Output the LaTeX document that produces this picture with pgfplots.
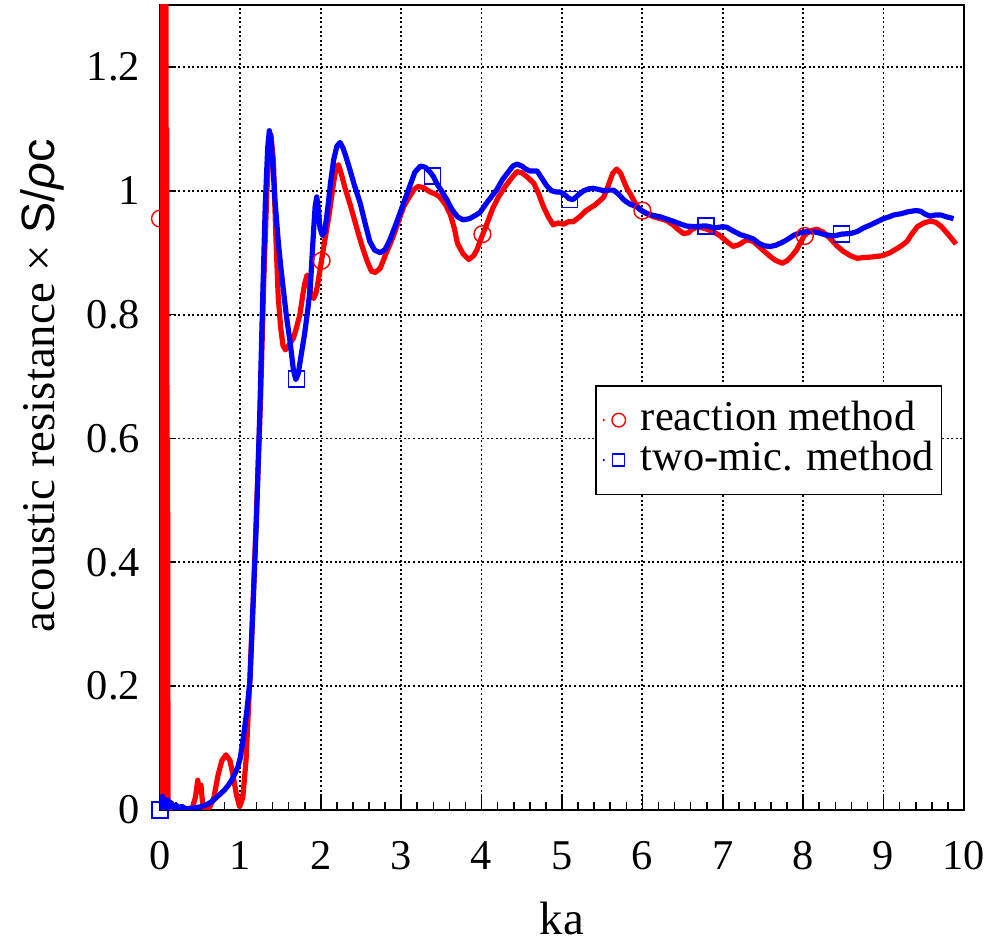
\documentclass[border=0pt]{standalone}
\usepackage{pgfplots}
\pgfplotsset{compat=1.18}
\usepackage{fontspec}
\setmainfont{Liberation Serif}
\setsansfont{Liberation Sans}

\begin{document}
\begin{tikzpicture}
\useasboundingbox (-40pt,-33pt) rectangle (207.25pt,202.5pt);
\begin{axis}[
    scale only axis,
    width=201pt, height=201.25pt,
    xmin=0, xmax=10,
    ymin=0, ymax=1.3,
    xtick={0,1,...,10},
    ytick={0,0.2,0.4,0.6,0.8,1,1.2},
    minor x tick num=4,
    minor y tick num=4,
    xtick pos=left, ytick pos=left,
    tick align=inside,
    major tick length=3.8pt,
    minor tick length=2pt,
    tick style={black, line width=0.4pt},
    axis line style={black, line width=0.6pt},
    grid=major,
    grid style={black, line width=0.45pt, dash pattern=on 0.5pt off 0.65pt},
    /pgf/number format/assume math mode=true,
    ticklabel style={font=\fontsize{10.6}{12}\selectfont},
    xticklabel style={anchor=base, yshift=-14.8pt},
    yticklabel style={xshift=-1.5pt},
    xlabel={ka},
    ylabel={acoustic resistance × {\sffamily S/\textit{ρ}c}},
    label style={font=\fontsize{11.7}{13}\selectfont},
    xlabel style={at={(axis description cs:0.5,-0.155)}, anchor=base},
    ylabel style={at={(axis description cs:-0.1306,0.527)}, anchor=base},
    legend cell align=left,
    legend style={at={(axis description cs:0.541,0.528)}, anchor=north west,
        draw=black, line width=0.4pt, inner xsep=1.5pt, inner ysep=3.6pt,
        font=\fontsize{10.6}{10}\selectfont,
        nodes={inner sep=0.3pt, text height=7.2pt, text depth=2.2pt}},
]

% reaction method
\addplot[red, line width=1.3pt, line join=round, forget plot] coordinates {
(0,0.96) (0.004,1.40) (0.009,0.10) (0.014,1.40) (0.019,0.02) (0.024,1.40)
(0.029,0.05) (0.034,1.40) (0.039,0.0) (0.044,1.40) (0.049,0.03) (0.054,1.40)
(0.059,0.0) (0.064,1.35) (0.069,0.01) (0.074,1.3) (0.079,0.0) (0.084,1.1)
(0.089,0.0) (0.094,0.6) (0.1,0.01) (0.15,0.003) (0.2,0.006) (0.3,0.002) (0.4,0.002)
(0.44,0.02) (0.47,0.048) (0.49,0.03) (0.51,0.04) (0.53,0.01) (0.56,0.0)
(0.62,0.005) (0.67,0.02) (0.72,0.055) (0.77,0.08) (0.82,0.089) (0.87,0.08)
(0.91,0.055) (0.95,0.025) (0.99,0.005) (1.03,0.02) (1.07,0.08) (1.11,0.19)
(1.16,0.34) (1.2,0.48) (1.25,0.66) (1.29,0.85) (1.33,1.00) (1.36,1.07)
(1.38,1.09) (1.41,1.05) (1.44,0.93) (1.47,0.83) (1.5,0.78) (1.53,0.75)
(1.56,0.743) (1.61,0.752) (1.66,0.762) (1.7,0.78) (1.74,0.80) (1.78,0.835)
(1.8,0.85) (1.83,0.864) (1.86,0.845) (1.88,0.832) (1.91,0.826) (1.94,0.835)
(1.96,0.848) (2.01,0.888) (2.05,0.92) (2.1,0.958) (2.15,1.005) (2.19,1.038)
(2.22,1.042) (2.26,1.025) (2.3,1.005) (2.36,0.98) (2.43,0.948) (2.48,0.925)
(2.53,0.904) (2.58,0.885) (2.63,0.87) (2.68,0.868) (2.74,0.875) (2.8,0.895)
(2.9,0.926) (2.97,0.952) (3.03,0.974) (3.1,0.99) (3.16,1.002) (3.21,1.007)
(3.28,1.005) (3.36,0.998) (3.42,0.995) (3.48,0.99) (3.55,0.978) (3.61,0.962)
(3.66,0.94) (3.7,0.915) (3.77,0.898) (3.84,0.889) (3.9,0.895) (3.94,0.904)
(4.0,0.925) (4.07,0.948) (4.14,0.972) (4.21,0.99) (4.3,1.008) (4.37,1.02)
(4.44,1.031) (4.5,1.029) (4.57,1.022) (4.65,1.012) (4.71,0.995) (4.77,0.974)
(4.83,0.958) (4.89,0.945) (4.95,0.948) (5.02,0.946) (5.08,0.95) (5.14,0.95)
(5.22,0.958) (5.3,0.968) (5.35,0.972) (5.42,0.978) (5.48,0.985) (5.52,0.99)
(5.58,1.01) (5.63,1.028) (5.68,1.035) (5.73,1.028) (5.77,1.015) (5.81,1.003)
(5.85,0.995) (5.91,0.98) (5.97,0.97) (6.01,0.966) (6.07,0.962) (6.14,0.958)
(6.22,0.955) (6.3,0.952) (6.38,0.945) (6.45,0.937) (6.51,0.931) (6.57,0.932)
(6.62,0.938) (6.68,0.941) (6.75,0.94) (6.82,0.937) (6.89,0.933) (6.96,0.928)
(7.05,0.918) (7.13,0.91) (7.2,0.913) (7.3,0.921) (7.38,0.918) (7.45,0.91)
(7.51,0.903) (7.58,0.895) (7.65,0.888) (7.74,0.883) (7.8,0.887) (7.86,0.895)
(7.92,0.905) (8.01,0.927) (8.08,0.935) (8.17,0.938) (8.25,0.933) (8.32,0.925)
(8.42,0.911) (8.5,0.902) (8.59,0.895) (8.67,0.891) (8.75,0.892) (8.85,0.893)
(8.98,0.895) (9.08,0.9) (9.17,0.907) (9.23,0.912) (9.29,0.918) (9.35,0.93)
(9.42,0.942) (9.5,0.948) (9.58,0.951) (9.65,0.949) (9.72,0.942) (9.8,0.93)
(9.87,0.919) (9.9,0.914)
};

% two-mic. method
\addplot[blue, line width=1.3pt, line join=round, forget plot] coordinates {
(0,0.0) (0.01,0.012) (0.02,0.005) (0.03,0.022) (0.04,0.006) (0.05,0.018)
(0.06,0.004) (0.07,0.015) (0.08,0.003) (0.1,0.016) (0.12,0.005) (0.14,0.012)
(0.16,0.003) (0.2,0.008) (0.23,0.002) (0.27,0.006) (0.32,0.002) (0.4,0.003)
(0.5,0.005) (0.55,0.007) (0.6,0.01) (0.65,0.014) (0.7,0.02) (0.75,0.026)
(0.8,0.032) (0.85,0.04) (0.89,0.048) (0.93,0.058) (0.97,0.07) (1.0,0.085)
(1.04,0.12) (1.08,0.16) (1.12,0.21) (1.16,0.34) (1.2,0.47) (1.24,0.635)
(1.28,0.84) (1.31,0.98) (1.34,1.07) (1.36,1.097) (1.38,1.085) (1.41,1.03)
(1.43,0.985) (1.47,0.92) (1.5,0.88) (1.53,0.845) (1.57,0.8) (1.62,0.754)
(1.66,0.71) (1.69,0.695) (1.72,0.705) (1.76,0.738) (1.8,0.77) (1.84,0.81)
(1.87,0.845) (1.89,0.89) (1.91,0.935) (1.93,0.975) (1.95,0.99) (1.97,0.97)
(1.99,0.94) (2.02,0.928) (2.05,0.935) (2.09,0.975) (2.12,1.012) (2.16,1.05)
(2.2,1.072) (2.24,1.078) (2.28,1.068) (2.32,1.052) (2.36,1.035) (2.42,1.008)
(2.49,0.98) (2.55,0.948) (2.61,0.918) (2.67,0.904) (2.74,0.9) (2.8,0.905)
(2.86,0.921) (2.94,0.948) (3.03,0.98) (3.1,1.005) (3.17,1.03) (3.24,1.04)
(3.3,1.038) (3.36,1.03) (3.4,1.023) (3.45,1.01) (3.5,1.0) (3.57,0.985)
(3.63,0.97) (3.7,0.958) (3.77,0.953) (3.85,0.955) (3.92,0.96) (3.98,0.965)
(4.05,0.978) (4.12,0.99) (4.19,1.002) (4.26,1.018) (4.33,1.03) (4.39,1.04)
(4.44,1.043) (4.5,1.04) (4.55,1.035) (4.6,1.032) (4.69,1.032) (4.75,1.02)
(4.81,1.008) (4.87,1.0) (4.93,0.998) (4.98,0.998) (5.04,0.993) (5.09,0.987)
(5.14,0.986) (5.2,0.993) (5.27,1.0) (5.33,1.003) (5.39,1.004) (5.46,1.002)
(5.52,1.0) (5.58,1.001) (5.64,1.001) (5.7,0.995) (5.77,0.985) (5.85,0.978)
(5.92,0.975) (5.99,0.968) (6.06,0.963) (6.14,0.96) (6.22,0.958) (6.31,0.954)
(6.4,0.95) (6.48,0.946) (6.55,0.943) (6.65,0.942) (6.75,0.943) (6.8,0.943)
(6.9,0.94) (7.0,0.942) (7.05,0.941) (7.13,0.935) (7.22,0.929) (7.3,0.926)
(7.38,0.922) (7.45,0.915) (7.52,0.911) (7.59,0.91) (7.66,0.912) (7.73,0.916)
(7.8,0.921) (7.88,0.928) (7.96,0.932) (8.05,0.934) (8.17,0.933) (8.27,0.929)
(8.38,0.927) (8.48,0.93) (8.59,0.931) (8.67,0.934) (8.75,0.94) (8.84,0.945)
(8.92,0.95) (9.0,0.955) (9.07,0.958) (9.13,0.961) (9.22,0.963) (9.3,0.966)
(9.4,0.968) (9.46,0.967) (9.52,0.962) (9.58,0.959) (9.65,0.961) (9.71,0.961)
(9.78,0.958) (9.87,0.955)
};

% sparse markers
\addplot[only marks, red, mark=o, mark size=2.1pt, mark options={line width=0.35pt}, forget plot]
    coordinates {(0,0.955) (2.01,0.887) (4.01,0.93) (6.0,0.968) (8.02,0.927)};
\addplot[only marks, blue, mark=square, mark size=2pt, mark options={line width=0.35pt}, forget plot]
    coordinates {(0,0) (1.7,0.696) (3.39,1.024) (5.09,0.986) (6.79,0.943) (8.48,0.93)};

\addlegendimage{draw=none, legend image code/.code={
    \path[draw=none] (0pt,0pt) -- (9.5pt,0pt);
    \fill[red] (0.5pt,0pt) circle (0.3pt);
    \draw[red, line width=0.35pt] (4.25pt,0pt) circle (1.7pt);}}
\addlegendentry{reaction method}
\addlegendimage{draw=none, legend image code/.code={
    \path[draw=none] (0pt,0pt) -- (9.5pt,0pt);
    \fill[blue] (0.5pt,0pt) circle (0.3pt);
    \draw[blue, line width=0.35pt] (2.75pt,-1.5pt) rectangle (5.75pt,1.5pt);}}
\addlegendentry{two-mic. method}

\end{axis}
\end{tikzpicture}
\end{document}
